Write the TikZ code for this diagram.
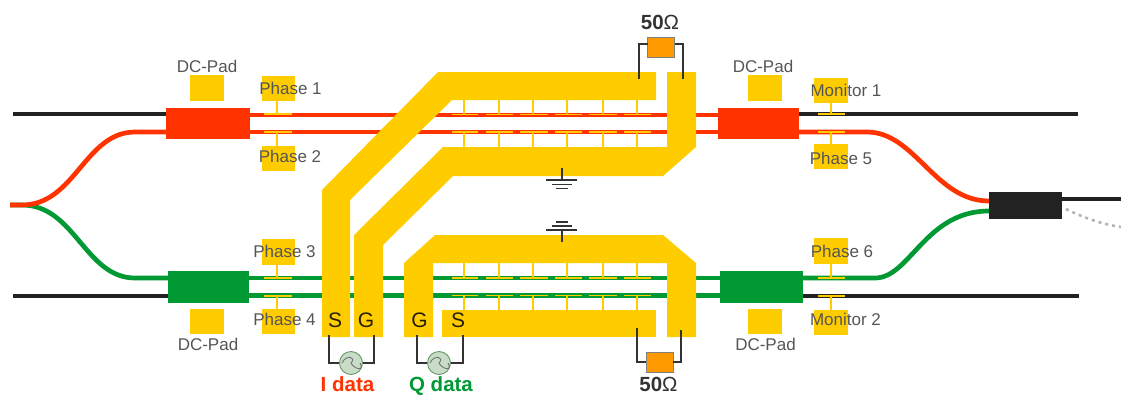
\documentclass[tikz,border=0pt]{standalone}
\usepackage{fontspec}
\setmainfont{Liberation Sans}
\definecolor{cred}{HTML}{FF3300}
\definecolor{cgreen}{HTML}{009933}
\definecolor{cyel}{HTML}{FFCC00}
\definecolor{cblk}{HTML}{222222}
\definecolor{cwire}{HTML}{333333}
\definecolor{corg}{HTML}{FF9900}
\definecolor{ctxt}{HTML}{555555}
\definecolor{csrc}{HTML}{C8DCC8}
\tikzset{
  wg/.style={line width=4.7pt},
  redwg/.style={wg,draw=cred},
  greenwg/.style={wg,draw=cgreen},
  blackwg/.style={wg,draw=cblk},
  mmi/.style={draw=none,minimum width=#1,inner sep=0pt,outer sep=0pt},
  padbox/.style={fill=cyel,draw=none,minimum width=33.5pt,minimum height=25.5pt,inner sep=0pt,outer sep=0pt},
  padlabel/.style={text=ctxt,font=\fontsize{17}{18}\selectfont,inner sep=0pt},
  stem/.style={draw=cyel,line width=1.6pt},
  cpw/.style={fill=cyel,draw=none},
  wire/.style={draw=cwire,line width=2.2pt},
  resistor/.style={fill=corg,draw=gray,line width=.8pt,minimum width=27pt,minimum height=20pt,inner sep=0pt,outer sep=0pt},
  source/.style={circle,fill=csrc,draw=gray!80!green,line width=.9pt,minimum size=23pt,inner sep=0pt,outer sep=0pt},
  pinlabel/.style={text=black!85!cyel,font=\fontsize{21}{23}\selectfont,inner sep=0pt},
  ohm/.style={text=cwire,font=\fontsize{20.5}{22}\selectfont,inner sep=0pt},
  datalabel/.style={font=\bfseries\fontsize{20.5}{22}\selectfont,inner sep=0pt,anchor=base},
  gnd/.style={draw=cwire,line width=1.6pt}
}
\begin{document}
\begin{tikzpicture}[x=1pt,y=-1pt]
\useasboundingbox (0,0) rectangle (1121,399);
% boxes
\node[fill=cred,mmi=84pt,minimum height=31pt] (mr1) at (208,123.5) {};
\node[fill=cred,mmi=81pt,minimum height=31pt] (mr2) at (758.5,123.5) {};
\node[fill=cgreen,mmi=81pt,minimum height=32pt] (mg1) at (208.5,287) {};
\node[fill=cgreen,mmi=83pt,minimum height=32pt] (mg2) at (761.5,287) {};
\node[fill=cblk,mmi=73pt,minimum height=27pt] (out) at (1025.5,205.5) {};
% free ends
\coordinate (inL) at (10,205);
\coordinate (tl) at (13,114);
\coordinate (bl) at (13,296);
\coordinate (tr) at (1078,114);
\coordinate (br) at (1079,296);
\coordinate (outR) at (1121,199);
\coordinate (outD) at (1121,227);
% waveguides
\draw[blackwg] (tl) -- (tl -| mr1.west);
\draw[blackwg] (bl) -- (bl -| mg1.west);
\draw[blackwg] (tr -| mr2.east) -- (tr);
\draw[blackwg] (br -| mg2.east) -- (br);
\draw[blackwg] (out.east |- outR) -- (outR);
\draw[draw=gray!60,line width=2.5pt,dash pattern=on 3pt off 4pt] (1066,209) .. controls (1080,216) and (1100,224) .. (outD);
\draw[redwg] (mr1.east |- 0,115) -- (mr2.west |- 0,115);
\draw[redwg] (mr1.east |- 0,132) -- (mr2.west |- 0,132);
\draw[greenwg] (mg1.east |- 0,278) -- (mg2.west |- 0,278);
\draw[greenwg] (mg1.east |- 0,295.5) -- (mg2.west |- 0,295.5);
\draw[greenwg] (inL) -- (22,205) .. controls (75,205) and (85,278) .. (135,278) -- (mg1.west |- 0,278);
\draw[redwg] (inL) -- (22,205) .. controls (75,205) and (85,132) .. (135,132) -- (mr1.west |- 0,132);
\draw[redwg] (mr2.east |- 0,132) -- (867,132) .. controls (915,132) and (935,201) .. (out.west |- 0,201);
\draw[greenwg] (mg2.east |- 0,278) -- (875,278) .. controls (910,278) and (925,211) .. (out.west |- 0,211);
% electrode fingers
\foreach \xa/\xb/\xs in {452/478/464,486/513/499,520/548/533,555/582/567,589/617/603,624/651/637}{
  \draw[stem] (\xs,100) -- (\xs,114);
  \draw[stem] (\xa,114.5) -- (\xb,114.5);
  \draw[stem] (\xs,147) -- (\xs,132);
  \draw[stem] (\xa,132) -- (\xb,132);
  \draw[stem] (\xs,263) -- (\xs,278);
  \draw[stem] (\xa,278) -- (\xb,278);
  \draw[stem] (\xs,310) -- (\xs,295.5);
  \draw[stem] (\xa,295.5) -- (\xb,295.5);
}
% electrodes
\fill[cpw] (322,337) -- (322,190) -- (438,72) -- (656,72) -- (656,100) -- (452,100) -- (350,200) -- (350,337) -- cycle;
\fill[cpw] (354,337) -- (354,235) -- (443,147) -- (667,147) -- (667,72) -- (696,72) -- (696,147) -- (663,176) -- (453,176) -- (383,245) -- (383,337) -- cycle;
\fill[cpw] (404,337) -- (404,263) -- (435,235) -- (663,235) -- (696,263) -- (696,337) -- (667,337) -- (667,263) -- (433,263) -- (433,337) -- cycle;
\fill[cpw] (442,310) rectangle (656,337);
% pads
\node[padbox] (dc1) at (207,88) {};
\node[padbox] (dc2) at (207,321.5) {};
\node[padbox] (dc3) at (765,88) {};
\node[padbox] (dc4) at (765,321.5) {};
\node[padbox] (ph1) at (278.5,88.5) {};
\node[padbox] (ph2) at (278.5,158.5) {};
\node[padbox] (ph3) at (278.5,252) {};
\node[padbox] (ph4) at (278.5,321.5) {};
\node[padbox] (mo1) at (831,90.5) {};
\node[padbox] (ph5) at (831,156.5) {};
\node[padbox] (ph6) at (831,251) {};
\node[padbox] (mo2) at (831,322.5) {};
% pad taps
\coordinate (t1) at (277,114); \coordinate (t2) at (277,132);
\coordinate (t3) at (277,278); \coordinate (t4) at (277,296);
\coordinate (t5) at (831,114); \coordinate (t6) at (831,132);
\coordinate (t7) at (831,278); \coordinate (t8) at (831,296);
\draw[stem] (t1 |- ph1.south) -- (t1); \draw[stem] (264,114) -- (292,114);
\draw[stem] (t2 |- ph2.north) -- (t2); \draw[stem] (264,132) -- (292,132);
\draw[stem] (t3 |- ph3.south) -- (t3); \draw[stem] (264,278) -- (292,278);
\draw[stem] (t4 |- ph4.north) -- (t4); \draw[stem] (264,296) -- (292,296);
\draw[stem] (mo1) -- (t5); \draw[stem] (818,114) -- (845,114);
\draw[stem] (ph5) -- (t6); \draw[stem] (818,132) -- (845,132);
\draw[stem] (ph6) -- (t7); \draw[stem] (818,278) -- (845,278);
\draw[stem] (mo2) -- (t8); \draw[stem] (818,296) -- (845,296);
% pad labels
\node[padlabel] (ldc1) at (207,66.5) {DC-Pad};
\node[padlabel] (ldc2) at (208,344) {DC-Pad};
\node[padlabel] (ldc3) at (763,66.5) {DC-Pad};
\node[padlabel] (ldc4) at (765.5,344) {DC-Pad};
\node[padlabel] (lp1) at (290.5,88) {Phase 1};
\node[padlabel] (lp2) at (290,156) {Phase 2};
\node[padlabel] (lp3) at (284.5,251) {Phase 3};
\node[padlabel] (lp4) at (284.5,319) {Phase 4};
\node[padlabel] (lm1) at (846,90) {Monitor 1};
\node[padlabel] (lp5) at (841,158) {Phase 5};
\node[padlabel] (lp6) at (842,251) {Phase 6};
\node[padlabel] (lm2) at (845.5,319) {Monitor 2};
% pins
\node[pinlabel] (pS1) at (335,320) {S};
\node[pinlabel] (pG1) at (366,320) {G};
\node[pinlabel] (pG2) at (419.5,320) {G};
\node[pinlabel] (pS2) at (458,320) {S};
% resistors
\node[resistor] (r1) at (661,47) {};
\node[resistor] (r2) at (659.5,362) {};
\coordinate (r1a) at (639,79); \coordinate (r1b) at (683,79);
\coordinate (r2a) at (637,328); \coordinate (r2b) at (681,330);
\draw[wire] (r1a) |- (r1.west |- 0,44);
\draw[wire] (r1b) |- (r1.east |- 0,44);
\draw[wire] (r2a) |- (r2.west);
\draw[wire] (r2b) |- (r2.east);
\node[ohm] (o1) at (660,22) {\textbf{50}Ω};
\node[ohm] (o2) at (658.5,384) {\textbf{50}Ω};
% sources
\coordinate (sa) at (329,335); \coordinate (sb) at (374,335);
\coordinate (sc) at (417,335); \coordinate (sd) at (463,335);
\draw[wire] (sa) |- (351,363);
\draw[wire] (sb) |- (351,363);
\draw[wire] (sc) |- (439,363);
\draw[wire] (sd) |- (439,363);
\node[source] (i) at (351,363) {};
\node[source] (q) at (439,363) {};
\foreach \s in {i,q}{
  \draw[gray!90!black,line width=.9pt] ([xshift=-9pt]\s.center) .. controls +(4,-9) and +(6,-6) .. (\s.center) .. controls +(3,6) and +(5,9) .. ([xshift=9pt]\s.center);
}
\node[datalabel,text=cred] (li) at (347.5,391) {I data};
\node[datalabel,text=cgreen] (lq) at (441,391) {Q data};
% grounds
\coordinate (g1) at (562,168);
\coordinate (g2) at (562,242);
\draw[gnd] (g1) -- (562,180);
\draw[gnd] (546,180) -- (577,180);
\draw[gnd] (552,184.5) -- (572,184.5);
\draw[gnd] (556,188.5) -- (568,188.5);
\draw[gnd] (g2) -- (562,230);
\draw[gnd] (546,230) -- (577,230);
\draw[gnd] (552,226) -- (572,226);
\draw[gnd] (556,222) -- (568,222);
\end{tikzpicture}
\end{document}
